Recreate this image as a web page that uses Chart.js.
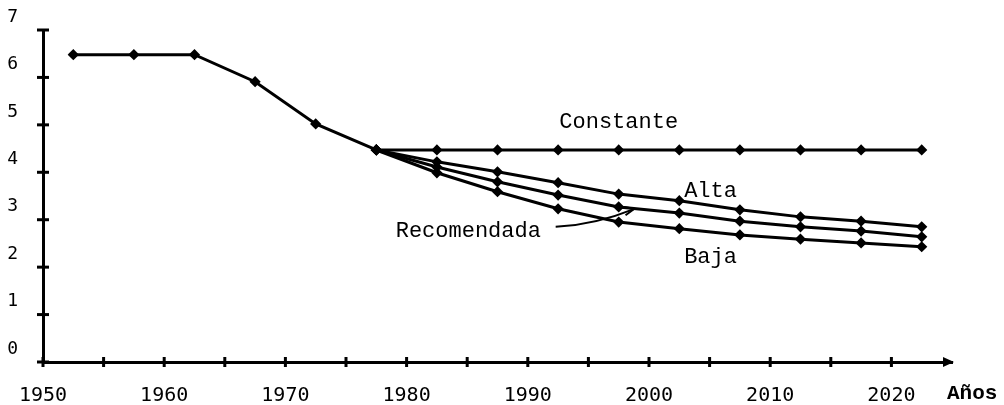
<!DOCTYPE html>
<html lang="es">
  <head>
    <meta charset="UTF-8" />
    <title>fecundidad</title>
    <script src="https://cdn.jsdelivr.net/npm/chart.js@4"></script>
    <style>
      body { margin: 0; background: #fff; }
      .chart-box { width: 1004px; height: 405px; }
    </style>
  </head>
  <body>
    <div class="chart-box">
      <canvas id="myChart"></canvas>
    </div>

    <script>
      // periodos quinquenales (punto medio)
      const histYears = [1952.5, 1957.5, 1962.5, 1967.5, 1972.5, 1977.5];
      const historia = [6.48, 6.48, 6.48, 5.91, 5.02, 4.47];

      const projYears = [1977.5, 1982.5, 1987.5, 1992.5, 1997.5, 2002.5, 2007.5, 2012.5, 2017.5, 2022.5];
      const constante = [4.47, 4.47, 4.47, 4.47, 4.47, 4.47, 4.47, 4.47, 4.47, 4.47];
      const alta = [4.47, 4.22, 4.01, 3.78, 3.54, 3.40, 3.21, 3.06, 2.97, 2.85];
      const recomendada = [4.47, 4.11, 3.80, 3.52, 3.27, 3.14, 2.97, 2.85, 2.76, 2.64];
      const baja = [4.47, 3.99, 3.59, 3.23, 2.95, 2.81, 2.68, 2.59, 2.51, 2.43];

      const xLabels = [1950, 1960, 1970, 1980, 1990, 2000, 2010, 2020];

      // etiquetas sobre el grafico (x, y en unidades de datos)
      const notes = [
        { text: "Constante", x: 1992.6, y: 4.94 },
        { text: "Alta", x: 2002.9, y: 3.48 },
        { text: "Recomendada", x: 1979.1, y: 2.64 },
        { text: "Baja", x: 2002.9, y: 2.09 },
      ];
      const arrowFrom = { x: 1992.3, y: 2.85 };
      const arrowTo = { x: 1998.8, y: 3.23 };

      const monoFont = "Liberation Mono";
      const tickFont = "DejaVu Sans Mono";

      function toPoints(xs, ys) {
        return xs.map((x, i) => ({ x: x, y: ys[i] }));
      }

      function lineSet(label, xs, ys) {
        return {
          label: label,
          data: toPoints(xs, ys),
          borderColor: "#000",
          backgroundColor: "#000",
          borderWidth: 3,
          pointStyle: "rectRot",
          pointRadius: 3.5,
          pointHoverRadius: 3.5,
          tension: 0,
          clip: false,
        };
      }

      // ejes dibujados a mano: marcas cruzadas, flecha, textos
      const decorPlugin = {
        id: "decor",
        afterDraw(chart) {
          const c = chart.ctx;
          const xs = chart.scales.x;
          const ys = chart.scales.y;
          const area = chart.chartArea;
          c.save();
          c.strokeStyle = "#000";
          c.fillStyle = "#000";
          c.lineWidth = 3;

          // marcas del eje x
          xs.ticks.forEach((t) => {
            if (t.value >= 2025) return;
            const px = xs.getPixelForValue(t.value);
            c.beginPath();
            c.moveTo(px, area.bottom - 5);
            c.lineTo(px, area.bottom + 5);
            c.stroke();
          });
          // marcas del eje y
          ys.ticks.forEach((t) => {
            const py = ys.getPixelForValue(t.value);
            c.beginPath();
            c.moveTo(area.left - 6, py);
            c.lineTo(area.left + 6, py);
            c.stroke();
          });

          // flecha del eje x
          c.beginPath();
          c.moveTo(area.right + 2, area.bottom);
          c.lineTo(area.right - 9, area.bottom - 5);
          c.lineTo(area.right - 9, area.bottom + 5);
          c.closePath();
          c.fill();

          // textos
          c.font = "22px '" + monoFont + "'";
          c.textAlign = "left";
          c.textBaseline = "alphabetic";
          notes.forEach((n) => {
            c.fillText(n.text, xs.getPixelForValue(n.x), ys.getPixelForValue(n.y));
          });

          // flecha de "Recomendada"
          const ax = xs.getPixelForValue(arrowFrom.x);
          const ay = ys.getPixelForValue(arrowFrom.y);
          const bx = xs.getPixelForValue(arrowTo.x);
          const by = ys.getPixelForValue(arrowTo.y);
          c.lineWidth = 2;
          c.beginPath();
          c.moveTo(ax, ay);
          c.quadraticCurveTo((ax + bx) / 2, ay - 2, bx, by);
          c.stroke();
          const ang = Math.atan2(by - ay, bx - ax);
          c.beginPath();
          c.moveTo(bx, by);
          c.lineTo(bx - 11 * Math.cos(ang - 0.4), by - 11 * Math.sin(ang - 0.4));
          c.moveTo(bx, by);
          c.lineTo(bx - 11 * Math.cos(ang + 0.4), by - 11 * Math.sin(ang + 0.4));
          c.stroke();

          // titulo del eje x
          c.font = "bold 21px '" + monoFont + "'";
          c.fillText("Años", area.right - 5, area.bottom + 37);
          c.restore();
        },
      };

      const config = {
        type: "line",
        data: {
          datasets: [
            lineSet("Historia", histYears, historia),
            lineSet("Constante", projYears, constante),
            lineSet("Alta", projYears, alta),
            lineSet("Recomendada", projYears, recomendada),
            lineSet("Baja", projYears, baja),
          ],
        },
        options: {
          responsive: true,
          maintainAspectRatio: false,
          animation: false,
          layout: {
            padding: { top: 30, right: 52, left: 0, bottom: 0 },
          },
          plugins: {
            legend: { display: false },
            tooltip: { enabled: false },
          },
          scales: {
            x: {
              type: "linear",
              min: 1950,
              max: 2025,
              grid: { display: false },
              border: { display: true, color: "#000", width: 3 },
              ticks: {
                stepSize: 5,
                autoSkip: false,
                maxRotation: 0,
                padding: 14,
                color: "#000",
                font: { family: tickFont, size: 20 },
                callback: (v) => (xLabels.includes(v) ? String(v) : ""),
              },
              afterFit: (scale) => {
                scale.height = 43;
              },
            },
            y: {
              min: 0,
              max: 7,
              grid: { display: false },
              border: { display: true, color: "#000", width: 3 },
              ticks: {
                stepSize: 1,
                padding: 17,
                labelOffset: -13,
                color: "#000",
                font: { family: tickFont, size: 18 },
              },
              afterFit: (scale) => {
                scale.width = 43;
              },
            },
          },
        },
        plugins: [decorPlugin],
      };

      const ctx = document.getElementById("myChart").getContext("2d");
      const myChart = new Chart(ctx, config);
    </script>
  </body>
</html>
